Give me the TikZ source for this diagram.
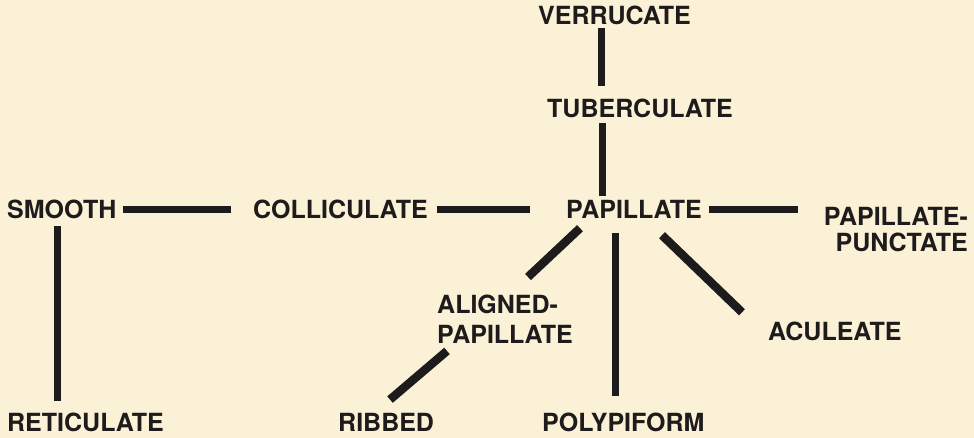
\documentclass[tikz,border=0pt]{standalone}
\usepackage{fontspec}
\setmainfont{TeX Gyre Heros}
\usepackage{tikz}
\usetikzlibrary{calc}
\definecolor{Paper}{HTML}{FBF1D6}
\definecolor{Ink}{HTML}{1D1B1B}
\tikzset{
  term/.style={inner sep=0pt,text=Ink,font=\fontsize{25}{26}\selectfont\bfseries},
  link/.style={draw=Ink,line width=7pt},
  slantlink/.style={draw=Ink,line width=8.5pt}
}

\begin{document}
\begin{tikzpicture}[x=1pt,y=-1pt]
  \path[use as bounding box,fill=Paper] (0,0) rectangle (974,438);
  % terms
  \node[term,anchor=base west] (verrucate) at (538,25) {VERRUCATE};
  \node[term,anchor=base west] (tuberculate) at (547,118) {TUBERCULATE};
  \node[term,anchor=base west] (smooth) at (7,219) {SMOOTH};
  \node[term,anchor=base west] (colliculate) at (253,219) {COLLICULATE};
  \node[term,anchor=base west] (papillate) at (566,219) {PAPILLATE};
  \node[term,anchor=north east,align=right] (papipunct) at (968,207) {PAPILLATE-\\PUNCTATE};
  \node[term,anchor=north west,align=left] (aligned) at (437,295) {ALIGNED-\\[4pt]PAPILLATE};
  \node[term,anchor=base west] (aculeate) at (768,340) {ACULEATE};
  \node[term,anchor=base west] (reticulate) at (7,431) {RETICULATE};
  \node[term,anchor=base west] (ribbed) at (338,431) {RIBBED};
  \node[term,anchor=base west] (polypiform) at (542,431) {POLYPIFORM};
  % links
  \draw[link] ($(verrucate.south west)+(63,3)$) -- ($(tuberculate.north west)+(54,-13)$);
  \draw[link] ($(tuberculate.south west)+(55,5)$) -- ($(papillate.north west)+(36,-5)$);
  \draw[link,shorten <=6pt,shorten >=22pt] (smooth.east) -- (colliculate.west);
  \draw[link,shorten <=9pt,shorten >=36pt] (colliculate.east) -- (papillate.west);
  \draw[link,shorten <=7pt,shorten >=26pt] (papillate.east) -- (papillate.east -| papipunct.west);
  \draw[link] ($(smooth.south west)+(50,7)$) -- ($(reticulate.north west)+(50,-11)$);
  \draw[link] ($(papillate.south west)+(49,14)$) -- ($(polypiform.north west)+(73,-16)$);
  \draw[slantlink] ($(papillate.south west)+(14,9)$) -- ($(aligned.north west)+(91,-18)$);
  \draw[slantlink] ($(papillate.south west)+(96,16)$) -- ($(aculeate.north west)+(-26,-9)$);
  \draw[slantlink] ($(aligned.south west)+(10,7)$) -- ($(ribbed.north west)+(52,-13)$);
\end{tikzpicture}
\end{document}
